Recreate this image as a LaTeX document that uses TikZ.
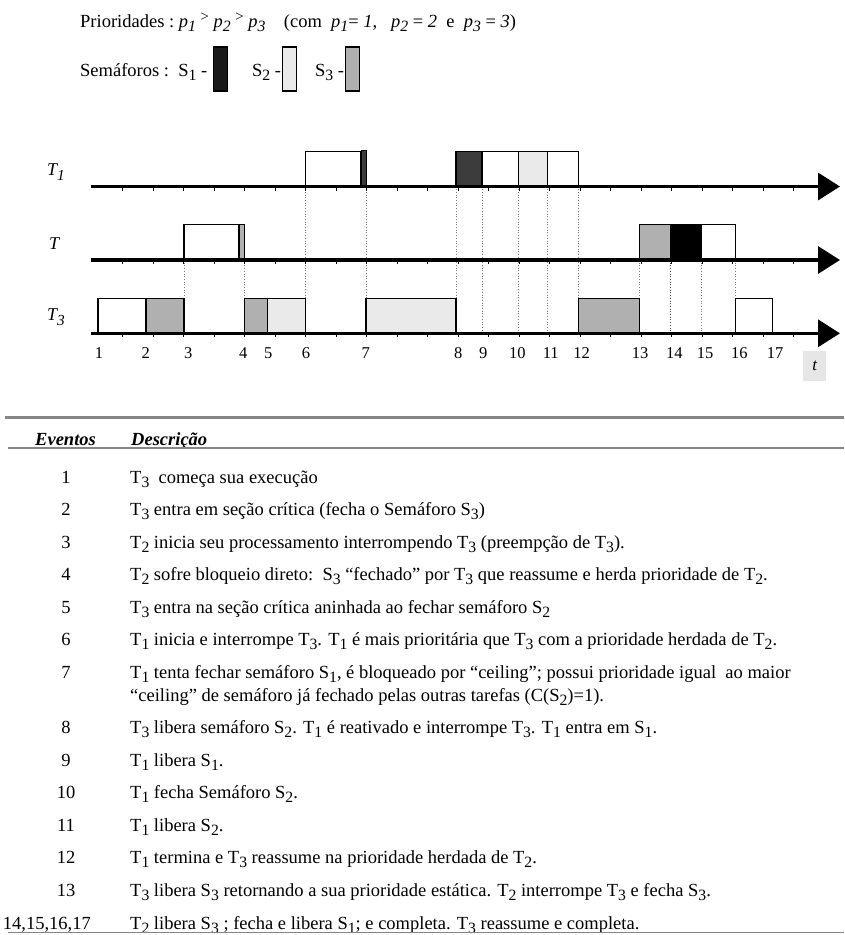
\documentclass[tikz,border=0pt]{standalone}
\usepackage{fontspec}
\setmainfont{Liberation Serif}
\usepackage{graphicx}
\usetikzlibrary{arrows.meta}

\definecolor{semone}{HTML}{1A1A1A}
\definecolor{semonedark}{HTML}{3C3C3C}
\definecolor{semtwo}{HTML}{EAEAEA}
\definecolor{semthree}{HTML}{B0B0B0}
\definecolor{rulegray}{HTML}{858585}
\definecolor{tboxgray}{HTML}{E6E6E6}

% lowered subscripts, upright and italic
\newcommand\lsub[1]{\raisebox{-0.22em}{\scalebox{0.85}{#1}}}
\newcommand\isub[1]{\raisebox{-0.25em}{\scalebox{0.85}{\itshape #1}}}
\newcommand\gtsym{\ \raisebox{0.3em}{\scalebox{0.8}{>}}\ }

\tikzset{
  axisline/.style={line width=3.4pt, -{Triangle[length=22pt,width=27pt]}},
  slot/.style={draw=black, line width=1.5pt},
  guide/.style={draw=gray, line width=0.7pt, dotted},
  tickmark/.style={line width=1pt},
  tasklabel/.style={anchor=west, inner sep=0pt, font=\fontsize{18}{18}\selectfont\itshape},
  evnum/.style={anchor=base, inner sep=0pt, font=\fontsize{16.5}{16.5}\selectfont},
  rownum/.style={anchor=base, inner sep=0pt, font=\fontsize{18.5}{20}\selectfont},
  rowtext/.style={anchor=base west, inner sep=0pt, font=\fontsize{18.5}{20}\selectfont},
  headtext/.style={anchor=base west, inner sep=0pt, font=\fontsize{18.5}{20}\selectfont\bfseries\itshape},
  legendtext/.style={anchor=base west, inner sep=0pt, font=\fontsize{18.5}{20}\selectfont},
  legendbox/.style={draw=black, line width=1.3pt},
}

\begin{document}
\begin{tikzpicture}[x=1pt,y=-1pt]
\useasboundingbox (0,0) rectangle (844,935);

% ---------- legend ----------
\node[legendtext] (prio) at (80,27) {Prioridades :\ \textit{p}\isub{1}\gtsym\textit{p}\isub{2}\gtsym\textit{p}\isub{3}\ \ \ \ (com\ \ \textit{p}\isub{1}= \textit{1},\ \ \ \textit{p}\isub{2} = \textit{2}\ \ e\ \ \textit{p}\isub{3} = \textit{3})};
\node[legendtext] (semlbl) at (80,76) {Semáforos :\ \ S\lsub{1} -};
\path[legendbox, fill=semone] ([xshift=6pt]semlbl.base east |- 0,47) rectangle ++(14,44);
\node[legendtext] (semtwolbl) at (252,76) {S\lsub{2} -};
\path[legendbox, fill=semtwo] ([xshift=1pt]semtwolbl.base east |- 0,47) rectangle ++(14,44);
\node[legendtext] (semthreelbl) at (315,76) {S\lsub{3} -};
\path[legendbox, fill=semthree] ([xshift=1pt]semthreelbl.base east |- 0,47) rectangle ++(14,44);

% ---------- task axes ----------
\coordinate (axA) at (91,186.5);  \coordinate (axAend) at (840,186.5);
\coordinate (axB) at (91,260);    \coordinate (axBend) at (840,260);
\coordinate (axC) at (91,333.3);  \coordinate (axCend) at (840,333.3);

\node[tasklabel] (lblA) at (47,172) {T\isub{1}};
\node[tasklabel] (lblB) at (49,244) {T};
\node[tasklabel] (lblC) at (47,317) {T\isub{3}};

% dotted guides between the task lines
\draw[guide] (184,260) -- (184,298.3);
\draw[guide] (244.5,260) -- (244.5,298.3);
\draw[guide] (305.5,186.5) -- (305.5,298.3);
\draw[guide] (366,186.5) -- (366,298.3);
\draw[guide] (456,186.5) -- (456,298.3);
\draw[guide] (482,186.5) -- (482,333.3);
\draw[guide] (518.3,186.5) -- (518.3,333.3);
\draw[guide] (547.5,186.5) -- (547.5,333.3);
\draw[guide] (578.7,186.5) -- (578.7,298.3);
\draw[guide] (639.7,260) -- (639.7,298.3);
\draw[guide, draw=black!70] (670.7,260) -- (670.7,333.3);
\draw[guide] (701.7,260) -- (701.7,333.3);
\draw[guide] (735.3,260) -- (735.3,298.3);

% execution slots of T1
\path[slot, fill=white] (305.5,151.5) rectangle (361,186.5);
\path[slot, fill=semonedark, line width=1pt] (361,150.5) rectangle (366.5,186.5);
\path[slot, fill=semonedark] (456,151.5) rectangle (482,186.5);
\path[slot, fill=white] (482,151.5) rectangle (518.3,186.5);
\path[slot, fill=semtwo] (518.3,151.5) rectangle (547.5,186.5);
\path[slot, fill=white] (547.5,151.5) rectangle (578.7,186.5);

% execution slots of T2
\path[slot, fill=white] (184,224.5) rectangle (239,260);
\path[slot, fill=semthree, line width=1pt] (239,224.5) rectangle (244.5,260);
\path[slot, fill=semthree] (639.7,224.5) rectangle (670.7,260);
\path[slot, fill=black] (670.7,224.5) rectangle (701.7,260);
\path[slot, fill=white] (701.7,224.5) rectangle (735.3,260);

% execution slots of T3
\path[slot, fill=white] (98,298.3) rectangle (146,333.3);
\path[slot, fill=semthree] (146,298.3) rectangle (184,333.3);
\path[slot, fill=semthree] (244.5,298.3) rectangle (267.5,333.3);
\path[slot, fill=semtwo] (267.5,298.3) rectangle (305.5,333.3);
\path[slot, fill=semtwo] (366,298.3) rectangle (456,333.3);
\path[slot, fill=semthree] (578.7,298.3) rectangle (639.7,333.3);
\path[slot, fill=white] (735.3,298.3) rectangle (772.7,333.3);

% axes with tick marks
\draw[axisline] (axA) -- (axAend);
\draw[axisline] (axB) -- (axBend);
\draw[axisline] (axC) -- (axCend);
\foreach \yy in {186.5,260,333.3}
  \foreach \k in {1,...,23}
    \draw[tickmark] ({92+30.5*\k},\yy) -- ++(0,4);

% event numbers on the time line
\foreach \xx/\lab [count=\i] in {99/1,145.7/2,188.3/3,243.3/4,268.3/5,306/6,365.7/7,458.3/8,483.3/9,517.3/10,550.7/11,581.7/12,640/13,674.3/14,705/15,739.3/16,775/17}
  \node[evnum] (ev\i) at (\xx,358.5) {\lab};
\node[fill=tboxgray, minimum width=23pt, minimum height=30pt, inner sep=0pt,
      font=\fontsize{17}{17}\selectfont\itshape] (tlbl) at (814.7,365.7) {t};

% ---------- table of events ----------
\draw[rulegray, line width=3pt] (5,417) -- (844,417);
\node[headtext] (hev) at (35,445) {Eventos};
\node[headtext] (hds) at (131,445) {Descrição};
\draw[rulegray, line width=2pt] (8,447.5) -- (844,447.5);

\node[rownum] (n1) at (66,483) {1};
\node[rowtext] (d1) at (130,483) {T\lsub{3}\ \ começa sua execução};
\node[rownum] (n2) at (66,515.5) {2};
\node[rowtext] (d2) at (130,515.5) {T\lsub{3} entra em seção crítica (fecha o Semáforo S\lsub{3})};
\node[rownum] (n3) at (66,548.1) {3};
\node[rowtext] (d3) at (130,548.1) {T\lsub{2} inicia seu processamento interrompendo T\lsub{3} (preempção de T\lsub{3}).};
\node[rownum] (n4) at (66,580.6) {4};
\node[rowtext] (d4) at (130,580.6) {T\lsub{2} sofre bloqueio direto:\ \ S\lsub{3} “fechado” por T\lsub{3} que reassume e herda prioridade de T\lsub{2}.};
\node[rownum] (n5) at (66,613.2) {5};
\node[rowtext] (d5) at (130,613.2) {T\lsub{3} entra na seção crítica aninhada ao fechar semáforo S\lsub{2}};
\node[rownum] (n6) at (66,645.7) {6};
\node[rowtext] (d6) at (130,645.7) {T\lsub{1} inicia e interrompe T\lsub{3}. T\lsub{1} é mais prioritária que T\lsub{3} com a prioridade herdada de T\lsub{2}.};
\node[rownum] (n7) at (66,678.2) {7};
\node[rowtext] (d7) at (130,678.2) {T\lsub{1} tenta fechar semáforo S\lsub{1}, é bloqueado por “ceiling”; possui prioridade igual\ \ ao maior};
\node[rowtext] (d7b) at (130,701.2) {“ceiling” de semáforo já fechado pelas outras tarefas (C(S\lsub{2})=1).};
\node[rownum] (n8) at (66,733.8) {8};
\node[rowtext] (d8) at (130,733.8) {T\lsub{3} libera semáforo S\lsub{2}. T\lsub{1} é reativado e interrompe T\lsub{3}. T\lsub{1} entra em S\lsub{1}.};
\node[rownum] (n9) at (66,766.3) {9};
\node[rowtext] (d9) at (130,766.3) {T\lsub{1} libera S\lsub{1}.};
\node[rownum] (n10) at (66,798.8) {10};
\node[rowtext] (d10) at (130,798.8) {T\lsub{1} fecha Semáforo S\lsub{2}.};
\node[rownum] (n11) at (66,831.4) {11};
\node[rowtext] (d11) at (130,831.4) {T\lsub{1} libera S\lsub{2}.};
\node[rownum] (n12) at (66,863.9) {12};
\node[rowtext] (d12) at (130,863.9) {T\lsub{1} termina e T\lsub{3} reassume na prioridade herdada de T\lsub{2}.};
\node[rownum] (n13) at (66,896.5) {13};
\node[rowtext] (d13) at (130,896.5) {T\lsub{3} libera S\lsub{3} retornando a sua prioridade estática. T\lsub{2} interrompe T\lsub{3} e fecha S\lsub{3}.};
\node[rownum, anchor=base east] (n14) at (91,929) {14,15,16,17};
\node[rowtext] (d14) at (130,929) {T\lsub{2} libera S\lsub{3} ; fecha e libera S\lsub{1}; e completa. T\lsub{3} reassume e completa.};
\draw[rulegray, line width=1.5pt] (8,932.5) -- (844,932.5);
\end{tikzpicture}
\end{document}
